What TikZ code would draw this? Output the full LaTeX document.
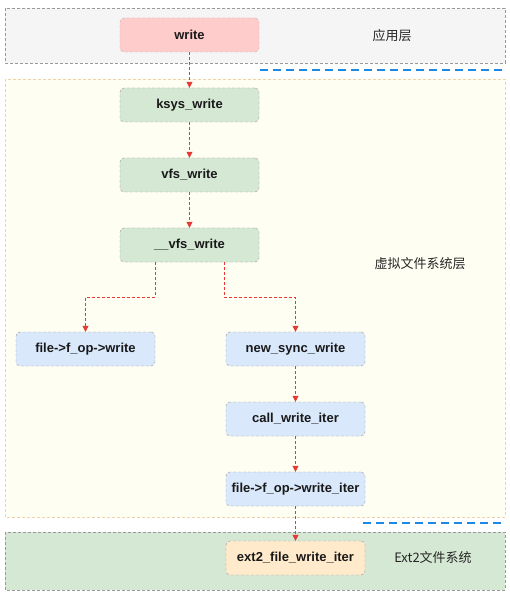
\documentclass[tikz,border=0pt]{standalone}
\usepackage{fontspec}
\setmainfont{Liberation Sans}
\newfontfamily\cjkfont{Noto Sans CJK SC}
\usetikzlibrary{arrows.meta,positioning}
\definecolor{appfill}{HTML}{F5F5F5}
\definecolor{vfsfill}{HTML}{FFFEF2}
\definecolor{vfsline}{HTML}{F2D3A8}
\definecolor{extfill}{HTML}{D5E8D4}
\definecolor{pinkfill}{HTML}{FFCCCC}
\definecolor{greenfill}{HTML}{D5E8D4}
\definecolor{bluefill}{HTML}{DAE8FC}
\definecolor{orangefill}{HTML}{FFF2CC}
\definecolor{callred}{HTML}{E53935}
\definecolor{splitblue}{HTML}{1E88E5}
\begin{document}
\begin{tikzpicture}[x=1pt, y=-1pt,
	func/.style={draw=gray!80, dash pattern=on 3pt off 2pt, rounded corners=4pt,
		minimum width=139pt, minimum height=34pt, inner sep=0pt,
		font=\bfseries\fontsize{13}{15}\selectfont, text=black!90},
	layer/.style={font=\cjkfont\fontsize{13}{15}\selectfont, text=black!85},
	call/.style={draw=callred, line width=0.8pt, dash pattern=on 3pt off 2pt, -{Triangle[length=6pt,width=6pt]}},
	split/.style={draw=splitblue, line width=2.2pt, dash pattern=on 8pt off 5pt}]
	\useasboundingbox (0,0) rectangle (509,593);
	% layers
	\filldraw[fill=appfill, draw=gray!80, dash pattern=on 3pt off 2pt] (5,8) rectangle (505,63);
	\filldraw[fill=vfsfill, draw=vfsline, dash pattern=on 3pt off 2pt] (5,79) rectangle (505,517);
	\filldraw[fill=extfill, draw=gray!80, dash pattern=on 3pt off 2pt] (5,532) rectangle (505,590);
	\draw[split] (260,70) -- (505,70);
	\draw[split] (363,523) -- (505,523);
	\node[layer] (app) at (392,36) {应用层};
	\node[layer] (vfs) at (420,264) {虚拟文件系统层};
	\node[layer] (ext) at (433,558) {Ext2文件系统};
	% functions
	\node[func, fill=pinkfill, draw=pinkfill!60!gray] (write) at (189.5,35) {write};
	\node[func, fill=greenfill] (ksys) at (189.5,105) {ksys\_write};
	\node[func, fill=greenfill] (vfswrite) at (189.5,175) {vfs\_write};
	\node[func, fill=greenfill] (uvfswrite) at (189.5,245) {\_\_vfs\_write};
	\node[func, fill=bluefill] (fopwrite) at (85.5,349) {file->f\_op->write};
	\node[func, fill=bluefill] (syncwrite) at (295.5,349) {new\_sync\_write};
	\node[func, fill=bluefill] (calliter) at (295.5,419) {call\_write\_iter};
	\node[func, fill=bluefill] (fopiter) at (295.5,489) {file->f\_op->write\_iter};
	\node[func, fill=orangefill!80!pinkfill] (extiter) at (295.5,558) {ext2\_file\_write\_iter};
	% calls
	\draw[call] (write) -- (ksys);
	\draw[call] (ksys) -- (vfswrite);
	\draw[call] (vfswrite) -- (uvfswrite);
	\draw[call] (uvfswrite.south -| 155,0) -- (155,297) -| (fopwrite);
	\draw[call] (uvfswrite.south -| 224,0) -- (224,297) -| (syncwrite);
	\draw[call] (syncwrite) -- (calliter);
	\draw[call] (calliter) -- (fopiter);
	\draw[call] (fopiter) -- (extiter);
\end{tikzpicture}
\end{document}
